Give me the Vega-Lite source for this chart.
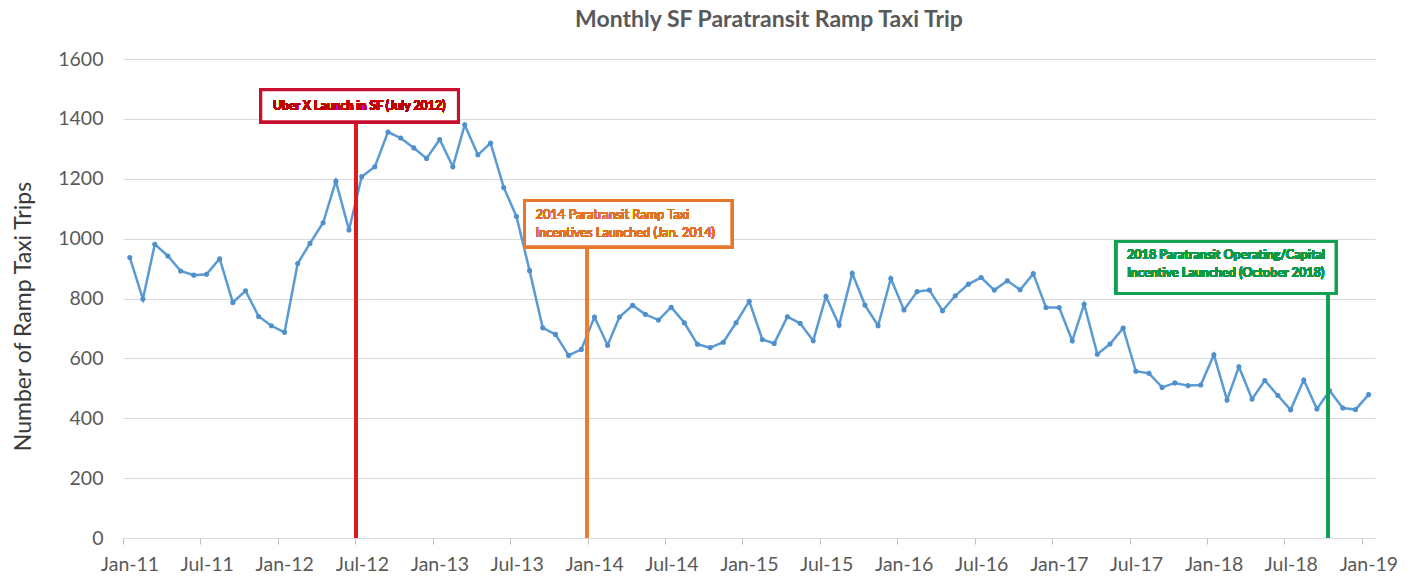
{
  "$schema": "https://vega.github.io/schema/vega-lite/v6.json",
  "width": 1252,
  "height": 479,
  "autosize": {"type": "none"},
  "padding": {"left": 123, "top": 59, "right": 39, "bottom": 44},
  "background": "white",
  "config": {"view": {"stroke": null}, "font": "Lato"},
  "title": {"text": "Monthly SF Paratransit Ramp Taxi Trip", "font": "Lato", "fontSize": 23, "fontWeight": "bold", "color": "#595959", "anchor": "middle", "dx": 20, "offset": 17},
  "data": {"values": [
    {"month": "2011-01-01", "trips": 937},
    {"month": "2011-02-01", "trips": 798},
    {"month": "2011-03-01", "trips": 981},
    {"month": "2011-04-01", "trips": 942},
    {"month": "2011-05-01", "trips": 892},
    {"month": "2011-06-01", "trips": 878},
    {"month": "2011-07-01", "trips": 881},
    {"month": "2011-08-01", "trips": 933},
    {"month": "2011-09-01", "trips": 787},
    {"month": "2011-10-01", "trips": 826},
    {"month": "2011-11-01", "trips": 740},
    {"month": "2011-12-01", "trips": 709},
    {"month": "2012-01-01", "trips": 687},
    {"month": "2012-02-01", "trips": 917},
    {"month": "2012-03-01", "trips": 984},
    {"month": "2012-04-01", "trips": 1053},
    {"month": "2012-05-01", "trips": 1192},
    {"month": "2012-06-01", "trips": 1029},
    {"month": "2012-07-01", "trips": 1207},
    {"month": "2012-08-01", "trips": 1240},
    {"month": "2012-09-01", "trips": 1356},
    {"month": "2012-10-01", "trips": 1336},
    {"month": "2012-11-01", "trips": 1303},
    {"month": "2012-12-01", "trips": 1268},
    {"month": "2013-01-01", "trips": 1331},
    {"month": "2013-02-01", "trips": 1240},
    {"month": "2013-03-01", "trips": 1380},
    {"month": "2013-04-01", "trips": 1280},
    {"month": "2013-05-01", "trips": 1319},
    {"month": "2013-06-01", "trips": 1171},
    {"month": "2013-07-01", "trips": 1074},
    {"month": "2013-08-01", "trips": 893},
    {"month": "2013-09-01", "trips": 702},
    {"month": "2013-10-01", "trips": 680},
    {"month": "2013-11-01", "trips": 610},
    {"month": "2013-12-01", "trips": 630},
    {"month": "2014-01-01", "trips": 738},
    {"month": "2014-02-01", "trips": 644},
    {"month": "2014-03-01", "trips": 738},
    {"month": "2014-04-01", "trips": 777},
    {"month": "2014-05-01", "trips": 747},
    {"month": "2014-06-01", "trips": 728},
    {"month": "2014-07-01", "trips": 771},
    {"month": "2014-08-01", "trips": 719},
    {"month": "2014-09-01", "trips": 647},
    {"month": "2014-10-01", "trips": 636},
    {"month": "2014-11-01", "trips": 654},
    {"month": "2014-12-01", "trips": 719},
    {"month": "2015-01-01", "trips": 791},
    {"month": "2015-02-01", "trips": 663},
    {"month": "2015-03-01", "trips": 650},
    {"month": "2015-04-01", "trips": 739},
    {"month": "2015-05-01", "trips": 717},
    {"month": "2015-06-01", "trips": 659},
    {"month": "2015-07-01", "trips": 807},
    {"month": "2015-08-01", "trips": 711},
    {"month": "2015-09-01", "trips": 884},
    {"month": "2015-10-01", "trips": 778},
    {"month": "2015-11-01", "trips": 709},
    {"month": "2015-12-01", "trips": 867},
    {"month": "2016-01-01", "trips": 762},
    {"month": "2016-02-01", "trips": 823},
    {"month": "2016-03-01", "trips": 828},
    {"month": "2016-04-01", "trips": 759},
    {"month": "2016-05-01", "trips": 809},
    {"month": "2016-06-01", "trips": 848},
    {"month": "2016-07-01", "trips": 870},
    {"month": "2016-08-01", "trips": 828},
    {"month": "2016-09-01", "trips": 859},
    {"month": "2016-10-01", "trips": 829},
    {"month": "2016-11-01", "trips": 883},
    {"month": "2016-12-01", "trips": 770},
    {"month": "2017-01-01", "trips": 770},
    {"month": "2017-02-01", "trips": 659},
    {"month": "2017-03-01", "trips": 781},
    {"month": "2017-04-01", "trips": 614},
    {"month": "2017-05-01", "trips": 648},
    {"month": "2017-06-01", "trips": 701},
    {"month": "2017-07-01", "trips": 557},
    {"month": "2017-08-01", "trips": 550},
    {"month": "2017-09-01", "trips": 503},
    {"month": "2017-10-01", "trips": 518},
    {"month": "2017-11-01", "trips": 509},
    {"month": "2017-12-01", "trips": 511},
    {"month": "2018-01-01", "trips": 612},
    {"month": "2018-02-01", "trips": 461},
    {"month": "2018-03-01", "trips": 572},
    {"month": "2018-04-01", "trips": 464},
    {"month": "2018-05-01", "trips": 526},
    {"month": "2018-06-01", "trips": 476},
    {"month": "2018-07-01", "trips": 428},
    {"month": "2018-08-01", "trips": 528},
    {"month": "2018-09-01", "trips": 431},
    {"month": "2018-10-01", "trips": 492},
    {"month": "2018-11-01", "trips": 434},
    {"month": "2018-12-01", "trips": 429},
    {"month": "2019-01-01", "trips": 479}
  ]},
  "encoding": {
    "x": {
      "field": "month", "type": "temporal",
      "scale": {"type": "utc", "domain": [{"year": 2010, "month": 12, "date": 16, "utc": true}, {"year": 2019, "month": 1, "date": 16, "utc": true}]},
      "axis": {
        "title": null,
        "grid": false,
        "values": [
          {"year": 2010, "month": 12, "date": 16, "utc": true},
          {"year": 2011, "month": 6, "date": 16, "utc": true},
          {"year": 2011, "month": 12, "date": 16, "utc": true},
          {"year": 2012, "month": 6, "date": 16, "utc": true},
          {"year": 2012, "month": 12, "date": 16, "utc": true},
          {"year": 2013, "month": 6, "date": 16, "utc": true},
          {"year": 2013, "month": 12, "date": 16, "utc": true},
          {"year": 2014, "month": 6, "date": 16, "utc": true},
          {"year": 2014, "month": 12, "date": 16, "utc": true},
          {"year": 2015, "month": 6, "date": 16, "utc": true},
          {"year": 2015, "month": 12, "date": 16, "utc": true},
          {"year": 2016, "month": 6, "date": 16, "utc": true},
          {"year": 2016, "month": 12, "date": 16, "utc": true},
          {"year": 2017, "month": 6, "date": 16, "utc": true},
          {"year": 2017, "month": 12, "date": 16, "utc": true},
          {"year": 2018, "month": 6, "date": 16, "utc": true},
          {"year": 2018, "month": 12, "date": 16, "utc": true}
        ],
        "labelExpr": "utcFormat(datum.value + 20*86400000, '%b-%y')",
        "labelOffset": 6.5,
        "labelFlush": false,
        "labelOverlap": false,
        "labelFont": "Lato",
        "labelFontSize": 19.5,
        "labelColor": "#595959",
        "labelPadding": 11,
        "tickSize": 6,
        "tickColor": "#BFBFBF",
        "domainColor": "#D9D9D9",
        "domainWidth": 1
      }
    },
    "y": {
      "field": "trips", "type": "quantitative",
      "scale": {"domain": [0, 1600], "nice": false},
      "axis": {
        "title": "Number of Ramp Taxi Trips",
        "titleFont": "Lato",
        "titleFontSize": 23,
        "titleFontWeight": "normal",
        "titleColor": "#3A3A3A",
        "titleX": -100,
        "titleY": 257,
        "titleBaseline": "middle",
        "values": [0, 200, 400, 600, 800, 1000, 1200, 1400, 1600],
        "format": "d",
        "labelFont": "Lato",
        "labelFontSize": 19.5,
        "labelColor": "#595959",
        "labelPadding": 20,
        "ticks": false,
        "domain": false,
        "gridColor": "#D9D9D9",
        "gridWidth": 1
      }
    }
  },
  "layer": [
    {
      "mark": {"type": "line", "color": "#5B9BD5", "strokeWidth": 2.5, "point": {"filled": true, "size": 26, "color": "#4F8FCB"}}
    },
    {
      "mark": {"type": "rule", "color": "#E0191E", "strokeWidth": 3},
      "encoding": {"x": {"datum": {"year": 2012, "month": 6, "date": 18, "utc": true}, "type": "temporal"}, "y": {"datum": 1390}, "y2": {"datum": 0}}
    },
    {
      "mark": {"type": "rect", "fill": "white", "stroke": "#C8102E", "strokeWidth": 3},
      "encoding": {"x": {"datum": {"year": 2011, "month": 11, "date": 6, "utc": true}, "type": "temporal"}, "x2": {"datum": {"year": 2013, "month": 2, "date": 14, "utc": true}}, "y": {"datum": 1497}, "y2": {"datum": 1390}}
    },
    {
      "mark": {"type": "text", "text": "Uber X Launch in SF (July 2012)", "font": "Lato", "fontSize": 12.3, "fontWeight": "bold", "color": "#C00000", "align": "center", "baseline": "middle"},
      "encoding": {"x": {"datum": {"year": 2012, "month": 6, "date": 25, "utc": true}, "type": "temporal"}, "y": {"datum": 1444}}
    },
    {
      "mark": {"type": "rule", "color": "#ED7D31", "strokeWidth": 3},
      "encoding": {"x": {"datum": {"year": 2013, "month": 12, "date": 15, "utc": true}, "type": "temporal"}, "y": {"datum": 973}, "y2": {"datum": 0}}
    },
    {
      "mark": {"type": "rect", "fill": "white", "stroke": "#E6782E", "strokeWidth": 3},
      "encoding": {"x": {"datum": {"year": 2013, "month": 7, "date": 20, "utc": true}, "type": "temporal"}, "x2": {"datum": {"year": 2014, "month": 11, "date": 21, "utc": true}}, "y": {"datum": 1127}, "y2": {"datum": 973}}
    },
    {
      "mark": {"type": "text", "text": ["2014 Paratransit Ramp Taxi", "Incentives Launched (Jan. 2014)"], "lineHeight": 18, "font": "Lato", "fontSize": 12.8, "color": "#E07325", "align": "left", "baseline": "middle"},
      "encoding": {"x": {"datum": {"year": 2013, "month": 8, "date": 15, "utc": true}, "type": "temporal"}, "y": {"datum": 1079}}
    },
    {
      "mark": {"type": "rule", "color": "#12A150", "strokeWidth": 3},
      "encoding": {"x": {"datum": {"year": 2018, "month": 9, "date": 27, "utc": true}, "type": "temporal"}, "y": {"datum": 817}, "y2": {"datum": 0}}
    },
    {
      "mark": {"type": "rect", "fill": "white", "stroke": "#12A150", "strokeWidth": 3},
      "encoding": {"x": {"datum": {"year": 2017, "month": 5, "date": 16, "utc": true}, "type": "temporal"}, "x2": {"datum": {"year": 2018, "month": 10, "date": 16, "utc": true}}, "y": {"datum": 990}, "y2": {"datum": 817}}
    },
    {
      "mark": {"type": "text", "text": ["2018 Paratransit Operating/Capital", "Incentive Launched (October 2018)"], "lineHeight": 18, "font": "Lato", "fontSize": 12.6, "fontWeight": "bold", "color": "#0E9A48", "align": "left", "baseline": "middle"},
      "encoding": {"x": {"datum": {"year": 2017, "month": 6, "date": 10, "utc": true}, "type": "temporal"}, "y": {"datum": 945}}
    }
  ]
}
